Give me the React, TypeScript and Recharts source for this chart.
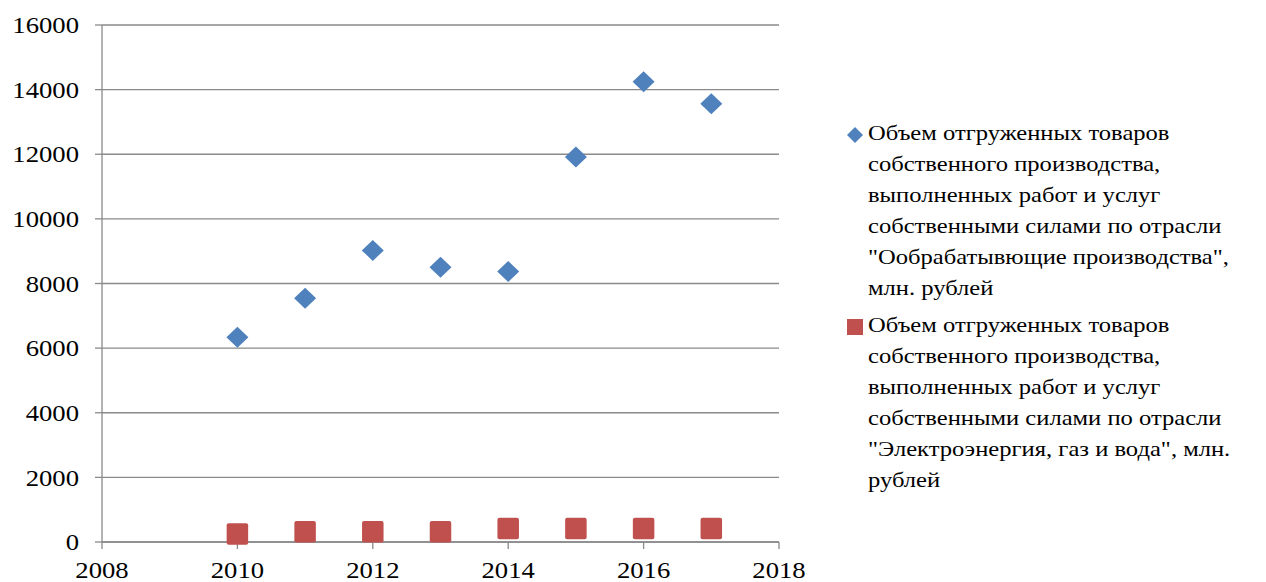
import React from 'react';
import { ScatterChart, Scatter, XAxis, YAxis, CartesianGrid, Legend } from 'recharts';

const years = [2010, 2011, 2012, 2013, 2014, 2015, 2016, 2017];
const manufacturing = [6335, 7545, 9025, 8505, 8370, 11915, 14245, 13560];
const energy = [245, 320, 320, 320, 415, 415, 415, 415];
const xTicks = [2008, 2010, 2012, 2014, 2016, 2018];
const yTicks = [0, 2000, 4000, 6000, 8000, 10000, 12000, 14000, 16000];
const seriesNames = [
  'Объем отгруженных товаров\nсобственного производства,\nвыполненных работ и услуг\nсобственными силами по отрасли\n"Ообрабатывющие производства",\nмлн. рублей',
  'Объем отгруженных товаров\nсобственного производства,\nвыполненных работ и услуг\nсобственными силами по отрасли\n"Электроэнергия, газ и вода", млн.\nрублей',
];
const colors = ['#4F81BD', '#C0504D'];

const manufData = years.map((y, i) => ({ year: y, value: manufacturing[i] }));
const energyData = years.map((y, i) => ({ year: y, value: energy[i] }));

const FONT = '"Liberation Serif", "Times New Roman", serif';
const STRETCH = 1.16;
const LEGEND_STRETCH = 1.17;

const Diamond = (props: any) => {
  const { cx, cy } = props;
  if (cx == null || cy == null) return null;
  const w = 11, h = 10.5;
  return (
    <polygon
      points={`${cx},${cy - h} ${cx + w},${cy} ${cx},${cy + h} ${cx - w},${cy}`}
      fill={colors[0]}
    />
  );
};

const Square = (props: any) => {
  const { cx, cy } = props;
  if (cx == null || cy == null) return null;
  const s = 21.5;
  return <rect x={cx - s / 2} y={cy - s / 2} width={s} height={s} rx={2} fill={colors[1]} />;
};

const YTick = (props: any) => {
  const { x, y, payload } = props;
  return (
    <g transform={`translate(${x},${y}) scale(${STRETCH},1)`}>
      <text x={0} y={0} dy="0.355em" textAnchor="end" fontFamily={FONT} fontSize={23} fill="#000">
        {payload.value}
      </text>
    </g>
  );
};

const XTick = (props: any) => {
  const { x, y, payload } = props;
  return (
    <g transform={`translate(${x},${y}) scale(${STRETCH},1)`}>
      <text x={0} y={0} dy="0.71em" textAnchor="middle" fontFamily={FONT} fontSize={23} fill="#000">
        {payload.value}
      </text>
    </g>
  );
};

const LegendContent = () => (
  <div style={{ fontFamily: FONT, fontSize: 21, color: '#000' }}>
    {seriesNames.map((name, i) => (
      <div key={i} style={{ position: 'relative', paddingLeft: 23, marginBottom: 6 }}>
        <svg width={18} height={18} style={{ position: 'absolute', left: 1, top: 8 }}>
          {i === 0 ? (
            <polygon points="9,1 17,9 9,17 1,9" fill={colors[0]} />
          ) : (
            <rect x={1} y={1} width={16} height={16} fill={colors[1]} />
          )}
        </svg>
        {name.split('\n').map((line, j) => (
          <div
            key={j}
            style={{
              height: 31,
              lineHeight: '31px',
              whiteSpace: 'nowrap',
              transform: `scaleX(${LEGEND_STRETCH})`,
              transformOrigin: 'left center',
            }}
          >
            {line}
          </div>
        ))}
      </div>
    ))}
  </div>
);

export default function App() {
  return (
    <div style={{ position: 'absolute', left: 0, top: 0, width: 1266, height: 582, background: '#fff', overflow: 'hidden' }}>
      <ScatterChart width={1266} height={582} margin={{ top: 25, right: 487, bottom: 0, left: 0 }}>
        <CartesianGrid horizontal={true} vertical={false} stroke="#8a8a8a" strokeWidth={1.3} />
        <XAxis
          type="number"
          dataKey="year"
          domain={[2008, 2018]}
          ticks={xTicks}
          interval={0}
          height={40}
          tickSize={7}
          tickMargin={13}
          tick={<XTick />}
          stroke="#8a8a8a"
          strokeWidth={1.3}
          allowDecimals={false}
        />
        <YAxis
          type="number"
          dataKey="value"
          domain={[0, 16000]}
          ticks={yTicks}
          interval={0}
          width={102}
          tickSize={7}
          tickMargin={16}
          tick={<YTick />}
          stroke="#8a8a8a"
          strokeWidth={1.3}
        />
        <Legend
          layout="horizontal"
          verticalAlign="middle"
          align="center"
          content={<LegendContent />}
          wrapperStyle={{ left: 845, top: 118, width: 421 }}
        />
        <Scatter name={seriesNames[0]} data={manufData} fill={colors[0]} shape={<Diamond />} isAnimationActive={false} />
        <Scatter name={seriesNames[1]} data={energyData} fill={colors[1]} shape={<Square />} isAnimationActive={false} />
      </ScatterChart>
    </div>
  );
}
